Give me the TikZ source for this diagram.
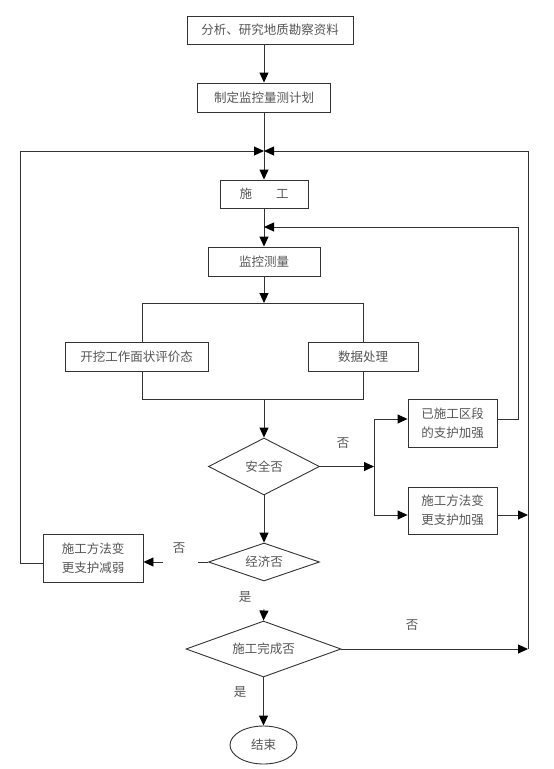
\documentclass[tikz,border=0pt]{standalone}
\usepackage{fontspec}
\newfontfamily\cjk{Noto Sans CJK SC}
\usetikzlibrary{shapes.geometric,arrows.meta}
\definecolor{ln}{HTML}{333333}
\definecolor{tx}{HTML}{555555}
\begin{document}
\begin{tikzpicture}[x=1pt,y=-1pt,
  every node/.style={font=\cjk\fontsize{12.5}{19}\selectfont, text=tx, inner sep=0pt},
  box/.style={draw=ln, line width=0.9pt, rectangle, align=center},
  dia/.style={draw=ln, line width=0.9pt, diamond},
  lbl/.style={},
  conn/.style={draw=ln, line width=0.9pt},
  arr/.style={conn, -{Triangle[length=10pt,width=9pt,color=black]}}]
\useasboundingbox (0,0) rectangle (554,769);

% nodes
\node[box, minimum width=166pt, minimum height=28pt] (b1) at (270,30) {分析、研究地质勘察资料};
\node[box, minimum width=133pt, minimum height=29pt] (b2) at (264,97.5) {制定监控量测计划};
\node[box, minimum width=88pt, minimum height=28pt] (b3) at (264,194) {施\hspace{24pt}工};
\node[box, minimum width=112pt, minimum height=29pt] (b4) at (264,261.5) {监控测量};
\node[box, minimum width=143pt, minimum height=29pt] (b5) at (136.5,356.5) {开挖工作面状评价态};
\node[box, minimum width=110pt, minimum height=29pt] (b6) at (363,356.5) {数据处理};
\node[dia, aspect=1.95, minimum width=111pt, minimum height=57pt] (d1) at (264,466.5) {安全否};
\node[box, minimum width=89pt, minimum height=48pt] (b7) at (452.5,423) {已施工区段\\的支护加强};
\node[box, minimum width=89pt, minimum height=47pt] (b8) at (452.5,510.5) {施工方法变\\更支护加强};
\node[dia, aspect=2.92, minimum width=111pt, minimum height=38pt] (d2) at (264,562) {经济否};
\node[box, minimum width=100pt, minimum height=48pt] (b9) at (93,558) {施工方法变\\更支护减弱};
\node[dia, aspect=2.77, minimum width=155pt, minimum height=56pt] (d3) at (263.5,649) {施工完成否};
\node[draw=ln, line width=0.9pt, ellipse, minimum width=67pt, minimum height=38pt] (e1) at (263.5,745) {结束};

% labels
\node[lbl] (n1) at (343,443) {否};
\node[lbl] (n2) at (179,548) {否};
\node[lbl] (y1) at (245,597) {是};
\node[lbl] (n3) at (412,625) {否};
\node[lbl] (y2) at (240,692) {是};

% coordinates
\coordinate (J1) at (264,151);
\coordinate (J2) at (264,227);
\coordinate (sL) at (142,303);
\coordinate (sC) at (264,303);
\coordinate (sR) at (363,303);
\coordinate (mL) at (142,399);
\coordinate (mC) at (264,399);
\coordinate (mR) at (363,399);
\coordinate (jt) at (374,419);
\coordinate (jj) at (374,466.5);
\coordinate (jb) at (374,515);
\coordinate (rA) at (518,419);
\coordinate (rB) at (518,227);
\coordinate (R1) at (528,151);
\coordinate (R2) at (528,649);
\coordinate (L1) at (20,151);
\coordinate (L2) at (20,563);
\coordinate (g1) at (198,562);
\coordinate (g2) at (163,562);
\coordinate (g3) at (264,609);

% connectors
\draw[arr] (b2.north |- b1.south) -- (b2.north);
\draw[arr] (b2.south) -- (b3.north);
\draw[arr] (L2 -| b9.west) -- (L2) -- (L1) -- (J1);
\draw[conn] (R2) -- (R1);
\draw[arr] (R1) -- (J1);
\draw[arr] (b3.south) -- (b4.north);
\draw[arr] (jt -| b7.east) -- (rA) -- (rB) -- (J2);
\draw[arr] (b4.south) -- (sC);
\draw[conn] (sL) -- (sR);
\draw[conn] (sL) -- (sL |- b5.north);
\draw[conn] (sR) -- (b6.north);
\draw[conn] (sL |- b5.south) -- (mL) -- (mR) -- (b6.south);
\draw[arr] (mC) -- (d1.north);
\draw[arr] (d1.east) -- (jj);
\draw[conn] (jt) -- (jb);
\draw[arr] (jt) -- (jt -| b7.west);
\draw[arr] (jb) -- (jb -| b8.west);
\draw[arr] (jb -| b8.east) -- (jb -| R1);
\draw[arr] (d1.south) -- (d2.north);
\draw[conn] (d2.west) -- (g1);
\draw[arr] (g2) -- (g2 -| b9.east);
\draw[arr] (g3) -- (d3.north);
\draw[arr] (d3.east) -- (R2);
\draw[arr] (d3.south) -- (e1.north);
\end{tikzpicture}
\end{document}
